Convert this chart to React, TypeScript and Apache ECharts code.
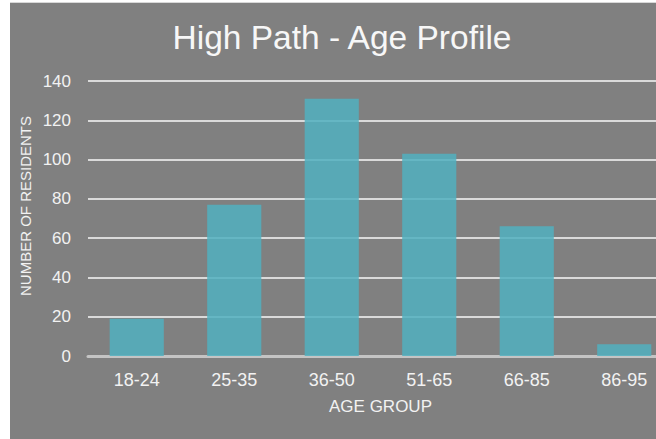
import React, { useEffect, useRef } from "react";
import * as echarts from "echarts";

const categories = ["18-24", "25-35", "36-50", "51-65", "66-85", "86-95"];
const residents = [19, 77, 131, 103, 66, 6];
const yTicks = { min: 0, max: 140, interval: 20 };
const titleText = "High Path - Age Profile";
const xName = "AGE GROUP";
const yName = "NUMBER OF RESIDENTS";

const FONT = "'Liberation Sans', Helvetica, Arial, sans-serif";

export default function App() {
  const ref = useRef<HTMLDivElement>(null);
  useEffect(() => {
    if (!ref.current) return;
    const chart = echarts.init(ref.current, undefined, { renderer: "svg" });
    chart.setOption({
      animation: false,
      backgroundColor: "#ffffff",
      textStyle: { fontFamily: FONT },
      title: {
        text: titleText,
        left: "center",
        top: 20,
        padding: 0,
        textStyle: { color: "#f7f7f7", fontSize: 33.5, fontWeight: "normal", fontFamily: FONT },
      },
      graphic: [
        { type: "rect", z: -10, silent: true, shape: { x: 10, y: 2, width: 700, height: 1 }, style: { fill: "#d8d8d8" } },
        { type: "rect", z: -10, silent: true, shape: { x: 10, y: 3, width: 700, height: 440 }, style: { fill: "#808080" } },
        {
          type: "text",
          x: 25,
          y: 206,
          rotation: Math.PI / 2,
          style: {
            text: yName,
            fill: "#f2f2f2",
            font: `15px ${FONT}`,
            textAlign: "center",
            textVerticalAlign: "middle",
          },
        },
      ],
      grid: { left: 88, right: 11, top: 81, bottom: 83, containLabel: false },
      xAxis: {
        type: "category",
        data: categories,
        name: xName,
        nameLocation: "middle",
        nameGap: 42,
        nameTextStyle: { color: "#f2f2f2", fontSize: 17, fontFamily: FONT },
        axisLine: { show: true, lineStyle: { color: "#c4c4c4", width: 3 } },
        axisTick: { show: false },
        axisLabel: { color: "#f2f2f2", fontSize: 18, margin: 15, fontFamily: FONT },
      },
      yAxis: {
        type: "value",
        min: yTicks.min,
        max: yTicks.max,
        interval: yTicks.interval,
        axisLine: { show: false },
        axisTick: { show: false },
        axisLabel: { color: "#f2f2f2", fontSize: 17, margin: 17, fontFamily: FONT },
        splitLine: { show: true, lineStyle: { color: "#dadada", width: 2 } },
      },
      series: [
        {
          type: "bar",
          data: residents,
          barWidth: "55.5%",
          itemStyle: { color: "#52b0bf", opacity: 0.86 },
        },
      ],
    });
    return () => chart.dispose();
  }, []);
  return (
    <div
      style={{
        position: "absolute",
        left: 0,
        top: 0,
        width: 656,
        height: 439,
        overflow: "hidden",
        background: "#ffffff",
      }}
    >
      <div ref={ref} style={{ width: 684, height: 439 }} />
    </div>
  );
}
